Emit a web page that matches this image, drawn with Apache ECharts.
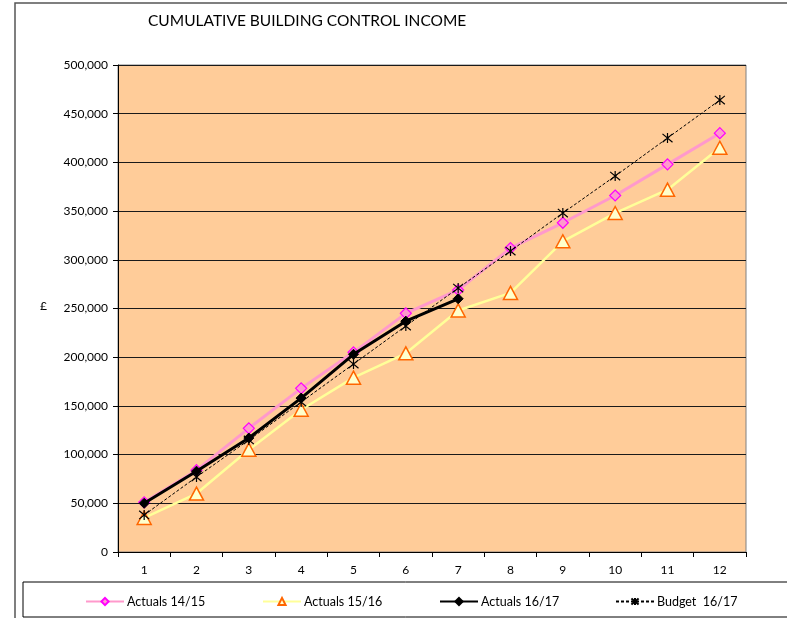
<!DOCTYPE html>
<html>
<head>
<meta charset="utf-8">
<script src="https://cdn.jsdelivr.net/npm/echarts@6/dist/echarts.min.js"></script>
<style>
  html, body { margin: 0; padding: 0; background: #fff; }
  #chart { width: 787px; height: 618px; }
</style>
</head>
<body>
<div id="chart"></div>
<script>
// Months of the financial year
var months = ['1', '2', '3', '4', '5', '6', '7', '8', '9', '10', '11', '12'];

// Series names, in legend order
var seriesNames = ['Actuals 14/15', 'Actuals 15/16', 'Actuals 16/17', 'Budget  16/17'];

// Cumulative income (£) per month
var actuals1415 = [51000, 84000, 127000, 168000, 205000, 245000, 269000, 312000, 338000, 366000, 398000, 430000];
var actuals1516 = [35000, 60000, 105000, 146000, 179000, 204000, 248000, 266000, 319000, 348000, 372000, 415000];
var actuals1617 = [50000, 83000, 117000, 158000, 203000, 237000, 260000];
var budget1617  = [38000, 77000, 115000, 154000, 193000, 232000, 271000, 309000, 348000, 386000, 425000, 464000];

// Value axis ticks
var yMin = 0, yMax = 500000, yStep = 50000;

var FONT = 'Lato, "Liberation Sans", sans-serif';
var asterisk = 'path://M0,0 L10,10 M10,0 L0,10 M5,-1 L5,11';

// One legend box per entry so each sits in its own column
var legendLefts = [80, 257, 434, 610];
var legends = seriesNames.map(function (name, i) {
  return {
    left: legendLefts[i],
    top: 590,
    itemWidth: 38,
    itemHeight: 9,
    itemGap: 0,
    textStyle: { fontFamily: FONT, fontSize: 12.5, color: '#000', padding: [0, 0, 0, -2] },
    data: [name]
  };
});

var chart = echarts.init(document.getElementById('chart'), null, { renderer: 'canvas' });

chart.setOption({
  animation: false,
  backgroundColor: '#ffffff',
  textStyle: { fontFamily: FONT },
  title: {
    text: 'CUMULATIVE BUILDING CONTROL INCOME',
    left: 143,
    top: 8,
    textStyle: { fontFamily: FONT, fontSize: 15.5, fontWeight: 'normal', color: '#000' }
  },
  grid: {
    left: 118, right: 41, top: 65, bottom: 66,
    show: true,
    backgroundColor: '#FFCC99',
    borderColor: '#808080',
    borderWidth: 1
  },
  xAxis: {
    type: 'category',
    data: months,
    boundaryGap: true,
    axisLine: { lineStyle: { color: '#000', width: 1 } },
    axisTick: { show: true, inside: false, length: 5, alignWithLabel: false, lineStyle: { color: '#000' } },
    axisLabel: { color: '#000', fontSize: 12, margin: 12, fontFamily: FONT },
    splitLine: { show: false }
  },
  yAxis: {
    type: 'value',
    min: yMin, max: yMax, interval: yStep,
    axisLine: { show: true, lineStyle: { color: '#000', width: 1 } },
    axisTick: { show: true, length: 5, lineStyle: { color: '#000' } },
    axisLabel: {
      color: '#000', fontSize: 12, margin: 10, fontFamily: FONT,
      formatter: function (v) { return v.toLocaleString('en-GB'); }
    },
    splitLine: { show: true, lineStyle: { color: '#1a1a1a', width: 1 } }
  },
  legend: legends,
  graphic: [
    { type: 'rect', silent: true, z: -1,
      shape: { x: 15, y: 3, width: 800, height: 700 },
      style: { fill: 'none', stroke: '#555', lineWidth: 1.5 } },
    { type: 'rect', silent: true,
      shape: { x: 23, y: 582, width: 800, height: 35 },
      style: { fill: 'none', stroke: '#000', lineWidth: 1 } },
    { type: 'text', silent: true, left: 40, top: 300,
      style: { text: '£', font: '12px ' + FONT, fill: '#000' } }
  ],
  series: [
    {
      name: seriesNames[0], type: 'line', data: actuals1415,
      symbol: 'diamond', symbolSize: 11,
      lineStyle: { color: '#FF99CC', width: 3 },
      itemStyle: { color: '#FF99CC', borderColor: '#FF00FF', borderWidth: 1.2 },
      z: 2
    },
    {
      name: seriesNames[1], type: 'line', data: actuals1516,
      symbol: 'triangle', symbolSize: [14, 13],
      lineStyle: { color: '#FFFF99', width: 2.5 },
      itemStyle: { color: '#FFFFCC', borderColor: '#FF6600', borderWidth: 1.5 },
      z: 3
    },
    {
      name: seriesNames[2], type: 'line', data: actuals1617,
      symbol: 'diamond', symbolSize: 10,
      lineStyle: { color: '#000', width: 3 },
      itemStyle: { color: '#000', borderColor: '#000', borderWidth: 1 },
      z: 4
    },
    {
      name: seriesNames[3], type: 'line', data: budget1617,
      symbol: asterisk, symbolSize: 10,
      lineStyle: { color: '#000', width: 1, type: [3, 2] },
      itemStyle: { color: 'none', borderColor: '#000', borderWidth: 1.2 },
      z: 5
    }
  ]
});
</script>
</body>
</html>
